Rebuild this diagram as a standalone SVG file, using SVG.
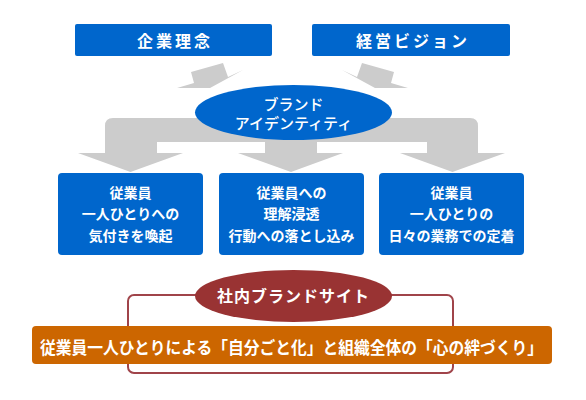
<svg xmlns="http://www.w3.org/2000/svg" width="586" height="400" viewBox="0 0 586 400">
<style>
.t{font-family:"Noto Sans CJK JP","Noto Sans CJK SC",sans-serif;fill:#fff;text-anchor:middle;dominant-baseline:central}
.b{font-weight:bold}
.blue{fill:#0066CC}
.grey{fill:#CCCCCC}
</style>
<rect width="586" height="400" fill="#fff"/>
<g id="connectors">
<polygon class="grey" points="191,72 223,63 228,77 243,70 210,88 177,88 194,83"/>
<polygon class="grey" points="394,72 362,63 357,77 342,70 375,88 408,88 391,83"/>
<path class="grey" d="M105,153 L105,126 Q105,118 113,118 L470,118 Q478,118 478,126 L478,153 L505,153 L452.5,172 L400,153 L427,153 L427,142 L317,142 L317,153 L343,153 L291,172 L238,153 L265,153 L265,142 L157,142 L157,153 L183,153 L130.5,172 L78,153 Z"/>
<rect x="128" y="295" width="325" height="78" rx="6" fill="none" stroke="#A0444A" stroke-width="2"/>
</g>
<g id="node-rinen">
<rect class="blue" x="75" y="24" width="197" height="32" rx="2"/>
<text class="t b" x="175" y="40" font-size="16" letter-spacing="3">企業理念</text>
</g>
<g id="node-vision">
<rect class="blue" x="312" y="24" width="198" height="32" rx="2"/>
<text class="t b" x="413" y="40" font-size="16" letter-spacing="3">経営ビジョン</text>
</g>
<g id="node-brand">
<ellipse class="blue" cx="293.5" cy="112.5" rx="98.5" ry="27.5"/>
<text class="t" x="293.5" y="103" font-size="15" font-weight="500">ブランド</text>
<text class="t" x="293.5" y="122" font-size="15" font-weight="500">アイデンティティ</text>
</g>
<g id="node-1">
<rect class="blue" x="58" y="173" width="145" height="82" rx="4"/>
<text class="t b" x="130.5" y="192" font-size="14">従業員</text>
<text class="t b" x="130.5" y="213" font-size="14">一人ひとりへの</text>
<text class="t b" x="130.5" y="235" font-size="14">気付きを喚起</text>
</g>
<g id="node-2">
<rect class="blue" x="219" y="173" width="145" height="82" rx="4"/>
<text class="t b" x="291.5" y="192" font-size="14">従業員への</text>
<text class="t b" x="291.5" y="213" font-size="14">理解浸透</text>
<text class="t b" x="291.5" y="235" font-size="14">行動への落とし込み</text>
</g>
<g id="node-3">
<rect class="blue" x="379" y="173" width="145" height="82" rx="4"/>
<text class="t b" x="451.5" y="192" font-size="14">従業員</text>
<text class="t b" x="451.5" y="213" font-size="14">一人ひとりの</text>
<text class="t b" x="451.5" y="235" font-size="14">日々の業務での定着</text>
</g>
<g id="node-site">
<ellipse cx="293.5" cy="296" rx="98.5" ry="26" fill="#993333"/>
<text class="t b" x="293.5" y="295" font-size="16" letter-spacing="1">社内ブランドサイト</text>
</g>
<g id="node-goal">
<rect x="32" y="326" width="520" height="38" rx="4" fill="#CC6600"/>
<text class="t b" x="291.5" y="346" font-size="17" textLength="503" lengthAdjust="spacingAndGlyphs">従業員一人ひとりによる「自分ごと化」と組織全体の「心の絆づくり」</text>
</g>
</svg>
